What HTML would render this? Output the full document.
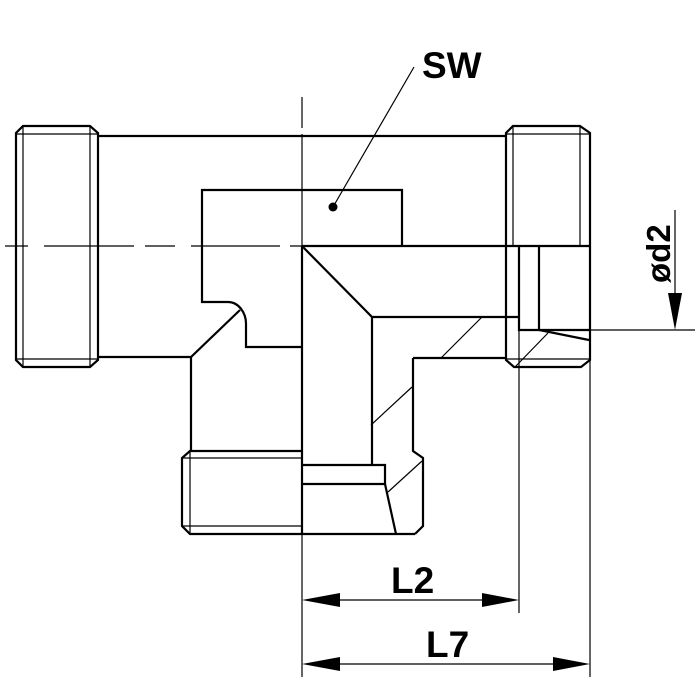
<!DOCTYPE html>
<html><head><style>html,body{margin:0;padding:0;background:#fff;}svg{display:block}</style></head>
<body>
<svg width="700" height="700" viewBox="0 0 700 700" xmlns="http://www.w3.org/2000/svg">
<g fill="none" stroke="#000" stroke-width="2.2" stroke-linejoin="miter">
<!-- left thread -->
<path d="M23,126 L90,126 L98,133 L98,360 L90,367 L23,367 L16,360 L16,133 Z"/>
<!-- body outline -->
<path d="M98,136 L506,136"/>
<path d="M98,357 L191,357 L240,310"/>
<path d="M191,357 L191,451"/>
<!-- hex recess -->
<path d="M302,190 L202,190 L202,302 L228,302 A18,22 0 0 1 246,325 L246,347 L302,347"/>
<path d="M302,190 L402,190 L402,246"/>
<!-- right thread -->
<path d="M513,126 L580,126 L590,133 L590,360 L581,367 L514,367 L506,360 L506,133 Z"/>
<!-- right section -->
<path d="M302,246 L590,246"/>
<path d="M302,246 L372,317 L519,317"/>
<path d="M519,246 L519,330 L590,330"/>
<path d="M539,246 L539,330 L589,340"/>
<path d="M413,358 L506,358"/>
<path d="M413,358 L413,451 L423,458 L423,526 L415,534"/>
<path d="M372,317 L372,465"/>
<!-- bottom thread -->
<path d="M302,451 L190,451 L182,458 L182,526 L190,534 L415,534"/>
<path d="M302,465 L385,465 L385,484 L302,484"/>
<path d="M385,484 L396,534"/>
<path d="M302,246 L302,535"/>
</g>
<g fill="none" stroke="#000" stroke-width="1.2">
<path d="M23,126 L23,367 M90,126 L90,367 M16,134 L98,134 M16,359 L98,359"/>
<path d="M513,126 L513,246 M580,126 L580,246 M506,134 L590,134 M506,359 L590,359"/>
<path d="M190,451 L190,534 M182,458 L302,458 M182,526 L302,526"/>
<path d="M482,317 L441,358 M548,333 L515,367 M412,387 L371,425 M422,461 L388,492"/>
<path d="M5,246 L28,246 M44,246 L134,246 M145,246 L175,246 M191,246 L280,246 M290,246 L302,246" />
<path d="M302,97 L302,128 M302,134 L302,246"/>
<path d="M302,535 L302,677 M519,330 L519,613 M590,330 L590,677 M590,330 L695,330"/>
<path d="M333,207 L414,67"/>
<path d="M675,210 L675,300"/>
<path d="M340,600 L482,600 M340,664 L553,664"/>
</g>
<circle cx="333" cy="207" r="4.5" fill="#000"/>
<g fill="#000">
<polygon points="675,330 668,293 682,293"/>
<polygon points="302,600 340,593 340,607"/>
<polygon points="519,600 482,593 482,607"/>
<polygon points="302,664 340,657 340,671"/>
<polygon points="590,664 553,657 553,671"/>
</g>
<g font-family="Liberation Sans, Arial, sans-serif" font-weight="bold" font-size="37" fill="#000">
<text x="422" y="78">SW</text>
<text x="391" y="593">L2</text>
<text x="426" y="657">L7</text>
<text transform="translate(670,283) rotate(-90)" font-size="33">ød2</text>
</g>
</svg>
</body></html>
